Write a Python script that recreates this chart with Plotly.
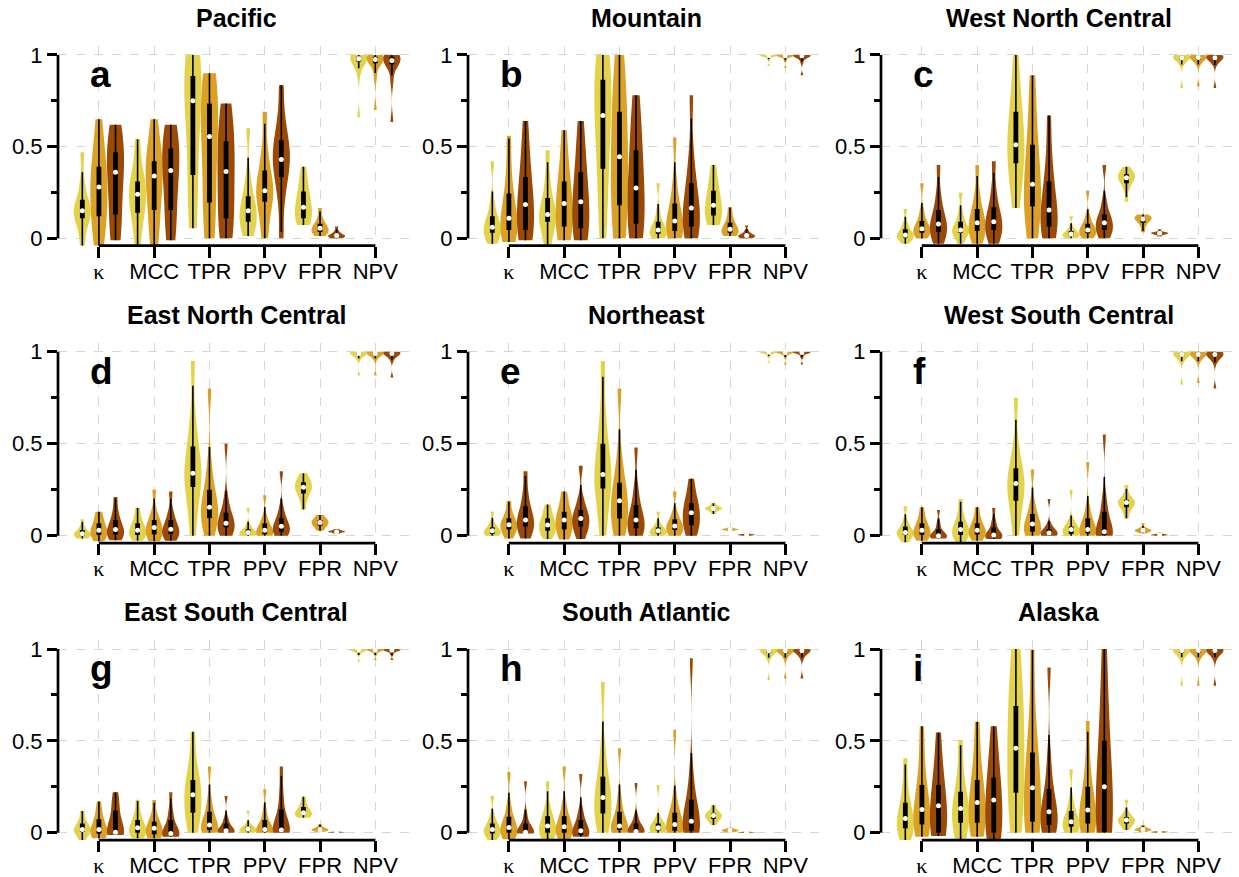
import numpy as np
import plotly.graph_objects as go

# ---------------- data ----------------
METRICS = ["κ", "MCC", "TPR", "PPV", "FPR", "NPV"]
MODELS = ["model 1", "model 2", "model 3"]
MODEL_COLORS = ["#E3D34C", "#DBA126", "#9A4A06"]
REGIONS = ["Pacific", "Mountain", "West North Central",
           "East North Central", "Northeast", "West South Central",
           "East South Central", "South Atlantic", "Alaska"]
LETTERS = ["a", "b", "c", "d", "e", "f", "g", "h", "i"]

# each region: 6 metrics x 3 models; each violin = 9 sorted representative values
PACIFIC = [
    [-0.04, 0.06, 0.11, 0.13, 0.15, 0.18, 0.21, 0.30, 0.47],
    [-0.04, 0.04, 0.12, 0.20, 0.28, 0.33, 0.39, 0.50, 0.65],
    [-0.01, 0.03, 0.13, 0.28, 0.36, 0.43, 0.47, 0.55, 0.62],
    [-0.04, 0.08, 0.14, 0.20, 0.24, 0.28, 0.31, 0.40, 0.54],
    [-0.04, 0.06, 0.155, 0.27, 0.34, 0.38, 0.42, 0.50, 0.65],
    [-0.01, 0.05, 0.155, 0.30, 0.37, 0.44, 0.49, 0.55, 0.62],
    [0.055, 0.20, 0.345, 0.60, 0.75, 0.83, 0.885, 0.95, 1.0],
    [0.0, 0.08, 0.195, 0.40, 0.555, 0.65, 0.735, 0.82, 0.90],
    [0.0, 0.04, 0.11, 0.25, 0.365, 0.45, 0.53, 0.63, 0.735],
    [0.013, 0.05, 0.09, 0.12, 0.15, 0.19, 0.23, 0.33, 0.60],
    [0.0, 0.10, 0.20, 0.23, 0.26, 0.31, 0.37, 0.48, 0.69],
    [0.0, 0.22, 0.335, 0.40, 0.43, 0.49, 0.535, 0.64, 0.835],
    [0.073, 0.10, 0.11, 0.14, 0.17, 0.20, 0.255, 0.30, 0.39],
    [0.013, 0.025, 0.035, 0.045, 0.055, 0.065, 0.08, 0.11, 0.165],
    [0.0, 0.004, 0.008, 0.012, 0.015, 0.02, 0.025, 0.04, 0.065],
    [0.66, 0.90, 0.965, 0.975, 0.98, 0.985, 0.99, 0.995, 1.0],
    [0.70, 0.88, 0.955, 0.968, 0.975, 0.982, 0.99, 0.995, 1.0],
    [0.635, 0.86, 0.95, 0.962, 0.97, 0.978, 0.99, 0.995, 1.0],
]
MOUNTAIN = [
    [-0.03, 0.0, 0.03, 0.045, 0.06, 0.09, 0.12, 0.20, 0.42],
    [-0.02, 0.01, 0.045, 0.08, 0.11, 0.17, 0.245, 0.38, 0.56],
    [-0.01, 0.01, 0.045, 0.12, 0.185, 0.26, 0.335, 0.47, 0.64],
    [-0.035, 0.03, 0.09, 0.11, 0.13, 0.17, 0.22, 0.32, 0.48],
    [-0.01, 0.02, 0.065, 0.13, 0.19, 0.25, 0.31, 0.43, 0.59],
    [-0.01, 0.02, 0.055, 0.13, 0.20, 0.28, 0.36, 0.49, 0.64],
    [0.0, 0.20, 0.38, 0.55, 0.67, 0.78, 0.865, 0.94, 1.0],
    [0.0, 0.07, 0.18, 0.32, 0.445, 0.57, 0.69, 0.85, 1.0],
    [0.0, 0.03, 0.08, 0.18, 0.275, 0.38, 0.48, 0.62, 0.78],
    [0.0, 0.01, 0.025, 0.035, 0.045, 0.065, 0.09, 0.15, 0.30],
    [0.0, 0.015, 0.04, 0.07, 0.095, 0.14, 0.19, 0.30, 0.55],
    [0.0, 0.02, 0.065, 0.12, 0.165, 0.23, 0.30, 0.45, 0.78],
    [0.073, 0.10, 0.125, 0.15, 0.18, 0.22, 0.26, 0.32, 0.40],
    [0.013, 0.022, 0.03, 0.04, 0.05, 0.065, 0.085, 0.12, 0.17],
    [0.0, 0.004, 0.008, 0.012, 0.015, 0.02, 0.025, 0.04, 0.07],
    [0.94, 0.975, 0.99, 0.994, 0.997, 0.998, 0.999, 1.0, 1.0],
    [0.93, 0.97, 0.988, 0.993, 0.996, 0.998, 0.999, 1.0, 1.0],
    [0.89, 0.96, 0.985, 0.992, 0.996, 0.998, 0.999, 1.0, 1.0],
]
WEST_NORTH_CENTRAL = [
    [-0.03, -0.005, 0.005, 0.012, 0.018, 0.03, 0.05, 0.08, 0.16],
    [0.0, 0.015, 0.03, 0.04, 0.052, 0.07, 0.095, 0.15, 0.30],
    [-0.03, 0.01, 0.035, 0.055, 0.078, 0.11, 0.155, 0.24, 0.40],
    [-0.03, 0.01, 0.03, 0.038, 0.045, 0.065, 0.09, 0.14, 0.25],
    [-0.03, 0.01, 0.04, 0.06, 0.085, 0.12, 0.16, 0.24, 0.40],
    [-0.03, 0.01, 0.045, 0.065, 0.09, 0.13, 0.17, 0.26, 0.42],
    [0.165, 0.30, 0.41, 0.46, 0.51, 0.60, 0.69, 0.80, 1.0],
    [0.0, 0.08, 0.175, 0.24, 0.295, 0.40, 0.51, 0.68, 0.89],
    [0.0, 0.03, 0.065, 0.11, 0.155, 0.23, 0.31, 0.45, 0.67],
    [0.0, 0.006, 0.012, 0.018, 0.023, 0.03, 0.04, 0.06, 0.12],
    [0.0, 0.012, 0.028, 0.036, 0.045, 0.06, 0.08, 0.12, 0.26],
    [0.0, 0.02, 0.045, 0.065, 0.085, 0.105, 0.13, 0.20, 0.40],
    [0.20, 0.27, 0.30, 0.32, 0.33, 0.34, 0.35, 0.36, 0.39],
    [0.033, 0.065, 0.085, 0.097, 0.105, 0.11, 0.115, 0.12, 0.13],
    [0.01, 0.02, 0.024, 0.026, 0.028, 0.03, 0.032, 0.036, 0.05],
    [0.82, 0.95, 0.975, 0.982, 0.985, 0.99, 0.993, 0.997, 1.0],
    [0.83, 0.95, 0.975, 0.982, 0.986, 0.99, 0.993, 0.997, 1.0],
    [0.82, 0.95, 0.974, 0.981, 0.985, 0.99, 0.993, 0.997, 1.0],
]
EAST_NORTH_CENTRAL = [
    [-0.015, -0.005, 0.0, 0.006, 0.011, 0.018, 0.03, 0.05, 0.09],
    [-0.03, -0.01, 0.004, 0.018, 0.03, 0.045, 0.067, 0.10, 0.13],
    [-0.025, -0.005, 0.007, 0.02, 0.034, 0.055, 0.085, 0.13, 0.21],
    [-0.027, -0.008, 0.004, 0.018, 0.03, 0.045, 0.067, 0.10, 0.15],
    [-0.03, -0.008, 0.007, 0.025, 0.045, 0.06, 0.085, 0.13, 0.25],
    [-0.027, -0.005, 0.009, 0.02, 0.035, 0.055, 0.085, 0.13, 0.24],
    [0.0, 0.15, 0.265, 0.30, 0.34, 0.41, 0.485, 0.63, 0.95],
    [0.0, 0.05, 0.095, 0.125, 0.155, 0.20, 0.25, 0.38, 0.80],
    [0.0, 0.02, 0.045, 0.055, 0.067, 0.09, 0.125, 0.20, 0.50],
    [0.0, 0.004, 0.008, 0.013, 0.018, 0.025, 0.035, 0.06, 0.15],
    [0.0, 0.002, 0.008, 0.018, 0.03, 0.045, 0.067, 0.10, 0.22],
    [0.0, 0.01, 0.022, 0.036, 0.052, 0.07, 0.094, 0.15, 0.35],
    [0.143, 0.20, 0.23, 0.25, 0.263, 0.275, 0.29, 0.31, 0.34],
    [0.027, 0.045, 0.055, 0.064, 0.072, 0.078, 0.085, 0.095, 0.112],
    [0.01, 0.016, 0.019, 0.021, 0.022, 0.024, 0.026, 0.03, 0.036],
    [0.87, 0.96, 0.982, 0.987, 0.99, 0.993, 0.995, 0.998, 1.0],
    [0.87, 0.96, 0.982, 0.987, 0.99, 0.993, 0.995, 0.998, 1.0],
    [0.86, 0.955, 0.98, 0.986, 0.99, 0.993, 0.995, 0.998, 1.0],
]
NORTHEAST = [
    [0.0, 0.005, 0.01, 0.018, 0.027, 0.035, 0.045, 0.07, 0.13],
    [-0.015, 0.01, 0.034, 0.047, 0.06, 0.075, 0.094, 0.13, 0.19],
    [-0.015, 0.02, 0.05, 0.068, 0.085, 0.115, 0.16, 0.23, 0.35],
    [-0.018, 0.008, 0.027, 0.042, 0.058, 0.075, 0.094, 0.13, 0.17],
    [-0.02, 0.008, 0.034, 0.06, 0.085, 0.105, 0.13, 0.18, 0.24],
    [-0.018, 0.02, 0.05, 0.07, 0.094, 0.115, 0.14, 0.20, 0.38],
    [0.0, 0.14, 0.257, 0.30, 0.333, 0.41, 0.50, 0.66, 0.95],
    [0.0, 0.04, 0.094, 0.14, 0.19, 0.24, 0.288, 0.42, 0.80],
    [0.0, 0.015, 0.04, 0.06, 0.085, 0.12, 0.167, 0.26, 0.48],
    [0.0, 0.006, 0.012, 0.02, 0.027, 0.035, 0.045, 0.07, 0.13],
    [0.0, 0.012, 0.031, 0.042, 0.053, 0.07, 0.089, 0.13, 0.24],
    [0.0, 0.03, 0.058, 0.09, 0.125, 0.15, 0.176, 0.23, 0.31],
    [0.118, 0.135, 0.14, 0.145, 0.148, 0.151, 0.155, 0.162, 0.176],
    [0.025, 0.029, 0.031, 0.033, 0.034, 0.035, 0.037, 0.039, 0.045],
    [0.0, 0.002, 0.003, 0.004, 0.005, 0.006, 0.007, 0.008, 0.012],
    [0.94, 0.975, 0.99, 0.994, 0.997, 0.998, 0.999, 1.0, 1.0],
    [0.93, 0.97, 0.988, 0.993, 0.996, 0.998, 0.999, 1.0, 1.0],
    [0.93, 0.97, 0.988, 0.993, 0.996, 0.998, 0.999, 1.0, 1.0],
]
WEST_SOUTH_CENTRAL = [
    [-0.036, -0.01, 0.004, 0.011, 0.018, 0.03, 0.049, 0.08, 0.16],
    [-0.027, -0.008, 0.004, 0.017, 0.03, 0.045, 0.067, 0.10, 0.155],
    [-0.015, -0.01, -0.005, -0.002, 0.0, 0.012, 0.034, 0.07, 0.14],
    [-0.04, -0.012, 0.004, 0.02, 0.034, 0.05, 0.076, 0.12, 0.20],
    [-0.027, -0.008, 0.007, 0.018, 0.03, 0.045, 0.067, 0.10, 0.155],
    [-0.018, -0.012, -0.005, 0.0, 0.004, 0.015, 0.045, 0.08, 0.15],
    [0.0, 0.11, 0.19, 0.24, 0.284, 0.32, 0.366, 0.48, 0.75],
    [0.0, 0.01, 0.022, 0.04, 0.063, 0.085, 0.118, 0.18, 0.36],
    [0.0, 0.002, 0.005, 0.01, 0.015, 0.022, 0.035, 0.06, 0.20],
    [0.0, 0.004, 0.01, 0.022, 0.034, 0.042, 0.05, 0.08, 0.25],
    [0.0, 0.005, 0.013, 0.024, 0.034, 0.06, 0.094, 0.15, 0.40],
    [0.0, 0.002, 0.004, 0.012, 0.022, 0.06, 0.13, 0.20, 0.55],
    [0.094, 0.135, 0.155, 0.168, 0.18, 0.188, 0.195, 0.22, 0.275],
    [0.013, 0.02, 0.024, 0.027, 0.03, 0.033, 0.036, 0.045, 0.067],
    [0.0, 0.002, 0.003, 0.004, 0.005, 0.006, 0.007, 0.01, 0.02],
    [0.82, 0.95, 0.975, 0.982, 0.985, 0.99, 0.993, 0.997, 1.0],
    [0.83, 0.95, 0.975, 0.982, 0.985, 0.99, 0.993, 0.997, 1.0],
    [0.80, 0.945, 0.973, 0.98, 0.985, 0.99, 0.993, 0.997, 1.0],
]
EAST_SOUTH_CENTRAL = [
    [-0.04, -0.012, 0.005, 0.012, 0.018, 0.03, 0.05, 0.075, 0.12],
    [-0.03, -0.015, -0.005, 0.007, 0.018, 0.04, 0.073, 0.11, 0.17],
    [-0.013, -0.005, 0.0, 0.001, 0.002, 0.05, 0.12, 0.16, 0.22],
    [-0.03, -0.01, 0.0, 0.014, 0.027, 0.045, 0.069, 0.11, 0.18],
    [-0.03, -0.018, -0.009, 0.008, 0.024, 0.04, 0.06, 0.10, 0.178],
    [-0.022, -0.015, -0.009, -0.006, -0.004, 0.025, 0.069, 0.12, 0.22],
    [0.0, 0.06, 0.109, 0.16, 0.207, 0.25, 0.287, 0.38, 0.55],
    [0.0, 0.006, 0.015, 0.028, 0.042, 0.07, 0.114, 0.18, 0.36],
    [0.0, 0.002, 0.004, 0.007, 0.011, 0.025, 0.05, 0.08, 0.20],
    [0.0, 0.004, 0.008, 0.014, 0.02, 0.026, 0.032, 0.05, 0.12],
    [0.0, 0.002, 0.005, 0.011, 0.018, 0.04, 0.069, 0.12, 0.236],
    [0.0, 0.002, 0.005, 0.01, 0.015, 0.06, 0.127, 0.22, 0.36],
    [0.082, 0.094, 0.10, 0.104, 0.109, 0.12, 0.14, 0.16, 0.196],
    [0.005, 0.01, 0.013, 0.016, 0.018, 0.021, 0.025, 0.032, 0.047],
    [0.0, 0.001, 0.002, 0.0025, 0.003, 0.0035, 0.004, 0.006, 0.01],
    [0.93, 0.97, 0.985, 0.99, 0.993, 0.995, 0.997, 0.999, 1.0],
    [0.94, 0.97, 0.985, 0.99, 0.993, 0.995, 0.997, 0.999, 1.0],
    [0.94, 0.97, 0.985, 0.99, 0.993, 0.995, 0.997, 0.999, 1.0],
]
SOUTH_ATLANTIC = [
    [-0.04, -0.015, -0.004, 0.007, 0.018, 0.032, 0.05, 0.09, 0.20],
    [-0.036, -0.012, 0.0, 0.015, 0.029, 0.05, 0.087, 0.15, 0.33],
    [-0.005, -0.002, 0.0, 0.001, 0.002, 0.02, 0.05, 0.10, 0.28],
    [-0.036, -0.012, 0.0, 0.018, 0.036, 0.06, 0.09, 0.14, 0.28],
    [-0.036, -0.012, 0.0, 0.016, 0.033, 0.055, 0.09, 0.15, 0.36],
    [-0.022, -0.017, -0.013, 0.0, 0.011, 0.035, 0.069, 0.12, 0.32],
    [0.0, 0.05, 0.105, 0.15, 0.192, 0.25, 0.305, 0.45, 0.82],
    [0.0, 0.006, 0.015, 0.025, 0.036, 0.07, 0.114, 0.19, 0.46],
    [0.0, 0.001, 0.003, 0.005, 0.007, 0.025, 0.05, 0.09, 0.27],
    [0.0, 0.006, 0.012, 0.02, 0.027, 0.036, 0.05, 0.08, 0.26],
    [0.0, 0.004, 0.011, 0.025, 0.045, 0.07, 0.109, 0.19, 0.56],
    [0.0, 0.004, 0.011, 0.035, 0.063, 0.11, 0.18, 0.32, 0.95],
    [0.042, 0.065, 0.075, 0.085, 0.093, 0.099, 0.105, 0.12, 0.15],
    [0.003, 0.007, 0.009, 0.011, 0.013, 0.015, 0.017, 0.02, 0.027],
    [0.0, 0.001, 0.0015, 0.002, 0.0025, 0.003, 0.0035, 0.004, 0.006],
    [0.83, 0.95, 0.978, 0.985, 0.99, 0.993, 0.995, 0.998, 1.0],
    [0.84, 0.95, 0.978, 0.985, 0.99, 0.993, 0.995, 0.998, 1.0],
    [0.84, 0.95, 0.978, 0.985, 0.99, 0.993, 0.995, 0.998, 1.0],
]
ALASKA = [
    [-0.04, 0.0, 0.024, 0.05, 0.078, 0.12, 0.163, 0.26, 0.405],
    [-0.022, 0.01, 0.045, 0.085, 0.127, 0.19, 0.26, 0.40, 0.58],
    [-0.018, -0.008, 0.0, 0.08, 0.147, 0.20, 0.26, 0.38, 0.545],
    [-0.036, 0.01, 0.054, 0.095, 0.132, 0.18, 0.223, 0.34, 0.505],
    [-0.022, 0.01, 0.054, 0.11, 0.165, 0.23, 0.287, 0.42, 0.604],
    [-0.036, -0.015, 0.0, 0.09, 0.178, 0.24, 0.30, 0.42, 0.58],
    [0.0, 0.10, 0.218, 0.34, 0.46, 0.58, 0.69, 0.85, 1.0],
    [0.0, 0.02, 0.06, 0.15, 0.245, 0.34, 0.436, 0.62, 0.995],
    [0.0, 0.015, 0.042, 0.075, 0.114, 0.17, 0.238, 0.40, 0.90],
    [0.0, 0.015, 0.033, 0.045, 0.06, 0.085, 0.118, 0.18, 0.345],
    [0.0, 0.02, 0.05, 0.085, 0.123, 0.18, 0.25, 0.38, 0.608],
    [0.0, 0.002, 0.005, 0.12, 0.25, 0.37, 0.50, 0.72, 1.0],
    [0.015, 0.04, 0.05, 0.06, 0.069, 0.076, 0.085, 0.11, 0.18],
    [0.004, 0.01, 0.013, 0.016, 0.018, 0.02, 0.023, 0.03, 0.042],
    [0.0, 0.002, 0.003, 0.0035, 0.004, 0.005, 0.006, 0.008, 0.015],
    [0.80, 0.95, 0.98, 0.988, 0.992, 0.995, 0.997, 0.999, 1.0],
    [0.80, 0.95, 0.98, 0.988, 0.992, 0.995, 0.997, 0.999, 1.0],
    [0.80, 0.95, 0.98, 0.988, 0.992, 0.995, 0.997, 0.999, 1.0],
]
PANEL_DATA = [PACIFIC, MOUNTAIN, WEST_NORTH_CENTRAL,
              EAST_NORTH_CENTRAL, NORTHEAST, WEST_SOUTH_CENTRAL,
              EAST_SOUTH_CENTRAL, SOUTH_ATLANTIC, ALASKA]

# ---------------- layout geometry (pixels, in window coordinates) ----------------
W, H = 1239, 877
COL_LEFT = [58, 468, 881]
PANEL_W = 356
ROW_Y1 = [55.0, 351.7, 649.0]     # pixel of y = 1
ROW_Y0 = [238.3, 535.7, 832.7]    # pixel of y = 0
Y_RANGE = [-0.04, 1.05]
X_RANGE = [0.26, 6.70]
DODGE = 0.3
VIOLIN_W = 0.31
FONT = "Liberation Sans, Arial, sans-serif"


def px_x(p):
    return p / W


def px_y(p):
    return 1 - p / H


fig = go.Figure()


def bandwidth(v):
    v = np.asarray(v, float)
    q1, q3 = np.percentile(v, [25, 75])
    s = v.std(ddof=1)
    iqr = (q3 - q1) / 1.349
    if iqr > 0:
        s = min(s, iqr)
    h = 1.059 * s * len(v) ** -0.2
    return max(h, (v.max() - v.min()) / 9.0)


layout_axes = {}
shapes = []
annotations = []

for k, (region, data) in enumerate(zip(REGIONS, PANEL_DATA)):
    r, c = divmod(k, 3)
    ax = "" if k == 0 else str(k + 1)
    xa, ya = "x" + ax, "y" + ax
    unit = ROW_Y0[r] - ROW_Y1[r]
    top_px = ROW_Y1[r] - (Y_RANGE[1] - 1) * unit
    bot_px = ROW_Y0[r] - Y_RANGE[0] * unit
    x0p = COL_LEFT[c]
    x1p = COL_LEFT[c] + PANEL_W

    wx, wy, bx, by, mx, my = [], [], [], [], [], []
    for m in range(len(METRICS)):
        for j in range(len(MODELS)):
            vals = data[m * 3 + j]
            xp = m + 1 + (j - 1) * DODGE
            fig.add_trace(go.Violin(
                x=[xp] * len(vals), y=vals, xaxis=xa, yaxis=ya,
                fillcolor=MODEL_COLORS[j],
                line=dict(width=0, color=MODEL_COLORS[j]),
                opacity=1, points=False, spanmode="hard",
                width=VIOLIN_W, scalemode="width",
                bandwidth=bandwidth(vals),
                box_visible=False, meanline_visible=False,
                hoverinfo="skip", showlegend=False, name=MODELS[j]))
            v = np.asarray(vals, float)
            q1, med, q3 = np.percentile(v, [25, 50, 75])
            iqr = q3 - q1
            lo = max(v.min(), q1 - 1.5 * iqr)
            hi = min(v.max(), q3 + 1.5 * iqr)
            wx += [xp, xp, None]
            wy += [lo, hi, None]
            bx += [xp, xp, None]
            by += [q1, q3, None]
            mx.append(xp)
            my.append(med)

    fig.add_trace(go.Scatter(x=wx, y=wy, mode="lines", xaxis=xa, yaxis=ya,
                             line=dict(color="black", width=1.6),
                             hoverinfo="skip", showlegend=False))
    fig.add_trace(go.Scatter(x=bx, y=by, mode="lines", xaxis=xa, yaxis=ya,
                             line=dict(color="black", width=4.8),
                             hoverinfo="skip", showlegend=False))
    fig.add_trace(go.Scatter(x=mx, y=my, mode="markers", xaxis=xa, yaxis=ya,
                             marker=dict(color="white", size=5,
                                         line=dict(width=0)),
                             hoverinfo="skip", showlegend=False))

    ticktext = []
    for lab in METRICS:
        if lab == "κ":
            ticktext.append('<span style="font-family:Liberation Serif">κ</span>')
        else:
            ticktext.append(lab)

    layout_axes["xaxis" + ax] = dict(
        domain=[px_x(x0p), min(px_x(x1p), 1.0)], range=X_RANGE, anchor=ya,
        automargin=False,
        tickmode="array", tickvals=list(range(1, len(METRICS) + 1)),
        ticktext=ticktext, ticks="outside", ticklen=11, tickwidth=2.6,
        tickcolor="black", ticklabelstandoff=-5,
        showline=False, zeroline=False,
        showgrid=True, gridcolor="#d6d6d6", griddash="dash", gridwidth=1,
        tickfont=dict(family=FONT, size=22, color="black"), fixedrange=True)
    layout_axes["yaxis" + ax] = dict(
        domain=[px_y(bot_px), px_y(top_px)], range=Y_RANGE, anchor=xa,
        automargin=False,
        tickmode="array", tickvals=[0, 0.5, 1], ticktext=["0", "0.5", "1"],
        ticks="outside", ticklen=10, tickwidth=2.6, tickcolor="black",
        minor=dict(tickvals=[0.25, 0.75], ticks="outside", ticklen=6,
                   tickwidth=2.6, tickcolor="black", showgrid=False),
        showline=False, zeroline=False,
        showgrid=True, gridcolor="#d6d6d6", griddash="dash", gridwidth=1,
        tickfont=dict(family=FONT, size=22, color="black"), fixedrange=True)

    # capped axis lines
    shapes.append(dict(type="line", xref=xa + " domain", yref=ya,
                       x0=0, x1=0, y0=0, y1=1,
                       line=dict(color="black", width=2.7), layer="above"))
    shapes.append(dict(type="line", xref=xa, yref=ya + " domain",
                       x0=1, x1=len(METRICS), y0=0, y1=0,
                       line=dict(color="black", width=2.7), layer="above"))

    # panel title
    title_px = ROW_Y1[r] - 37
    annotations.append(dict(
        text="<b>" + region + "</b>", xref="paper", yref="paper",
        x=px_x((x0p + x1p) / 2), y=px_y(title_px),
        xanchor="center", yanchor="middle", showarrow=False,
        font=dict(family=FONT, size=25, color="black")))
    # panel letter
    letter_px = ROW_Y1[r] + 19.5
    annotations.append(dict(
        text="<b>" + LETTERS[k] + "</b>", xref="paper", yref="paper",
        x=px_x(x0p + 30), y=px_y(letter_px),
        xanchor="left", yanchor="middle", showarrow=False,
        font=dict(family=FONT, size=37, color="black")))

fig.update_layout(
    width=W, height=H, margin=dict(l=0, r=0, t=0, b=0, autoexpand=False),
    paper_bgcolor="white", plot_bgcolor="white",
    showlegend=False, violinmode="overlay",
    shapes=shapes, annotations=annotations, **layout_axes)

fig.write_html(
    "out.html",
    config={"displayModeBar": False},
    post_script="document.body.style.margin='0';"
                "document.body.style.padding='0';"
                "document.body.style.overflow='hidden';")
